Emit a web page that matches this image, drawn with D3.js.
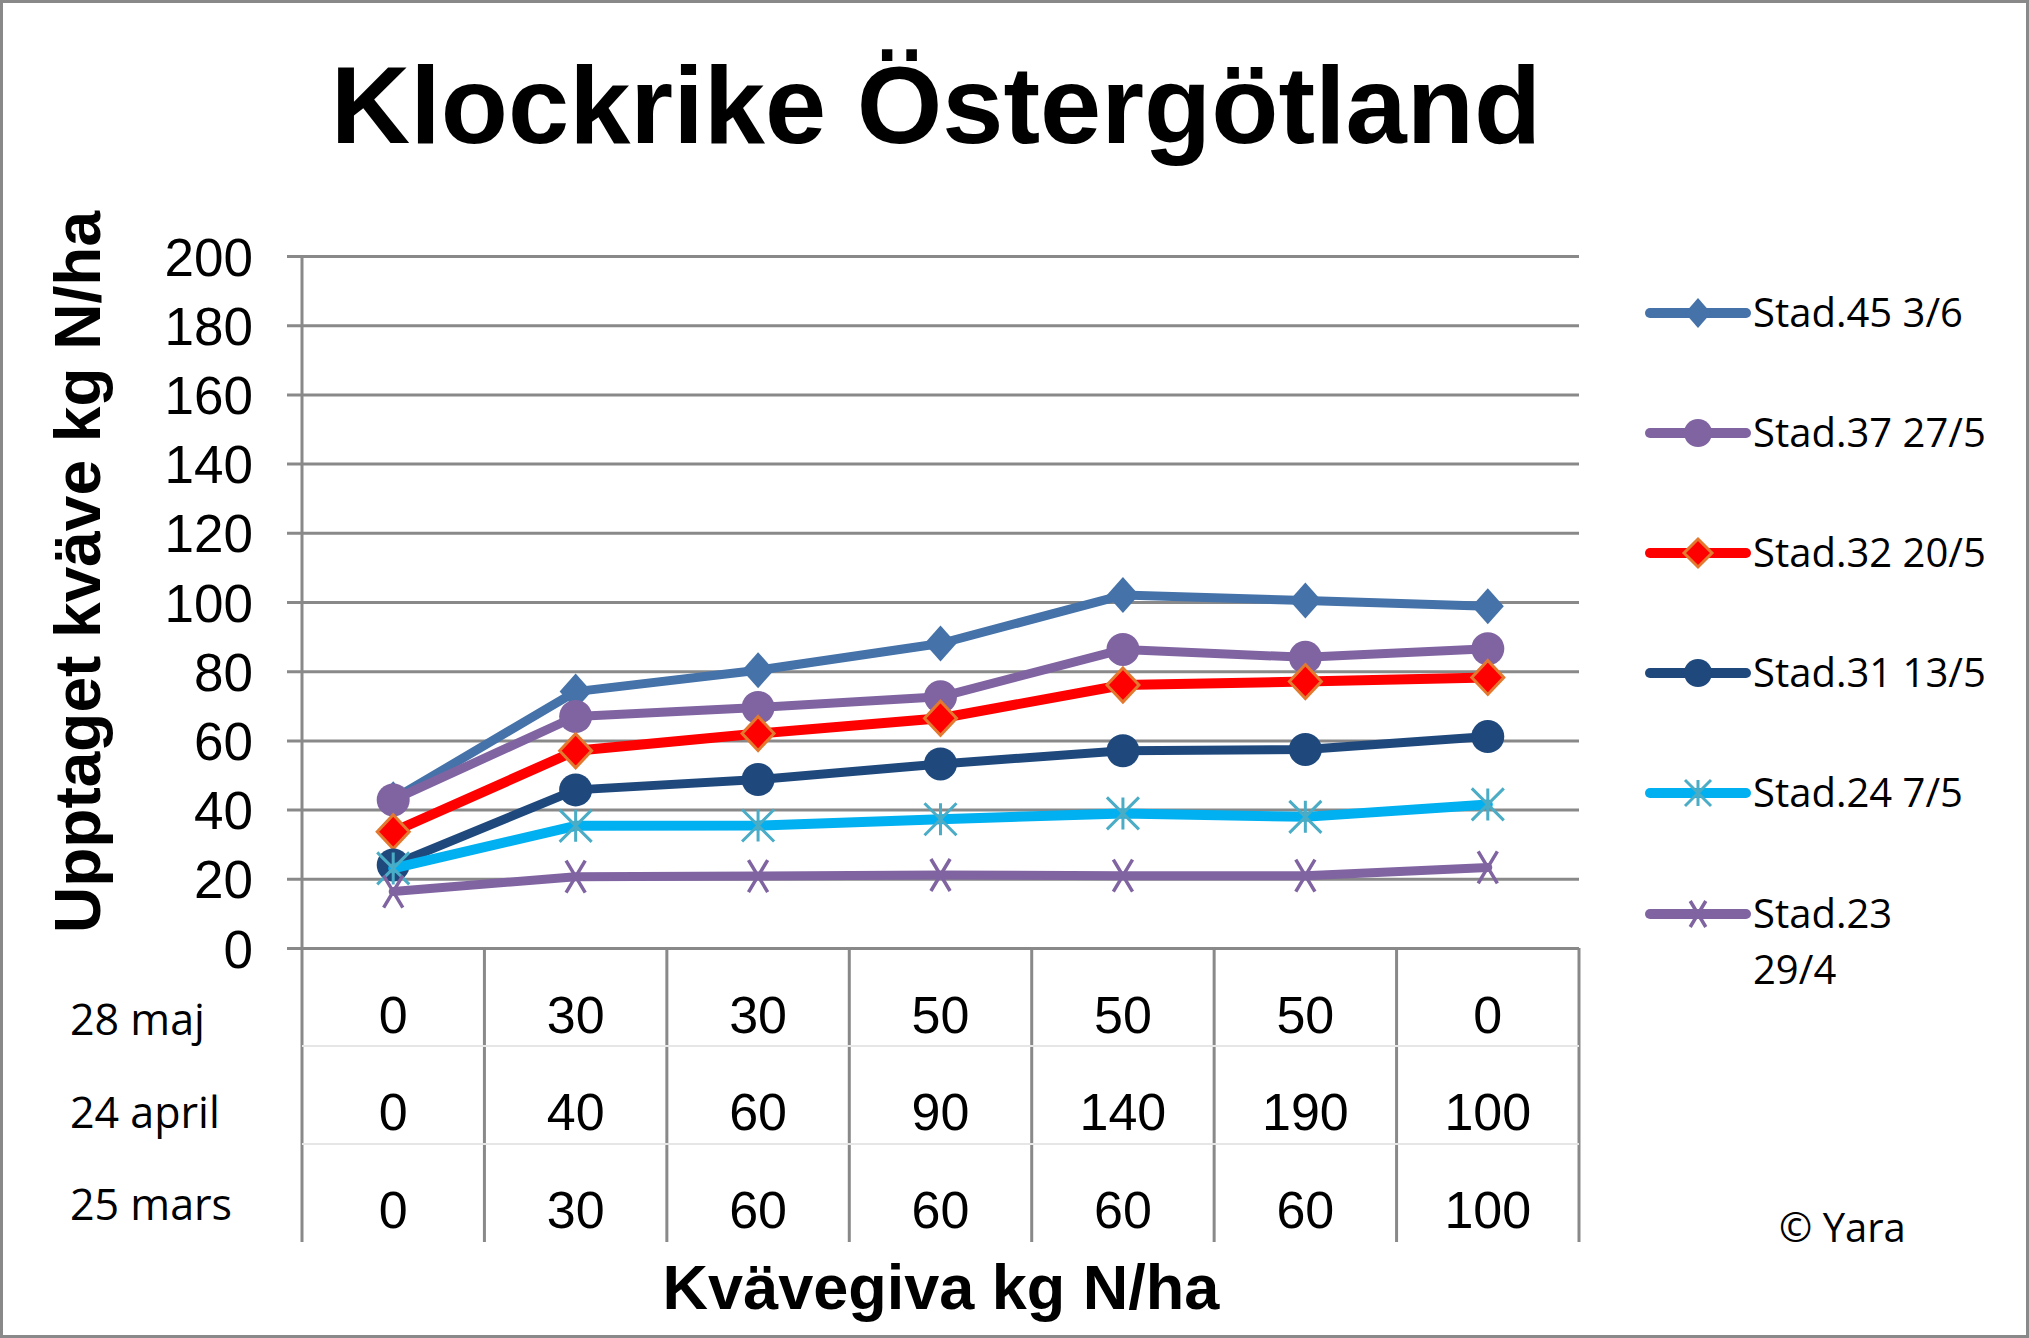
<!DOCTYPE html>
<html><head><meta charset="utf-8">
<script src="https://cdn.jsdelivr.net/npm/d3@7"></script>
<style>
html,body{margin:0;padding:0;background:#fff;}
svg{display:block;}
</style></head>
<body>
<script>
// ---- data ----
const categories = [0,1,2,3,4,5,6];
const rowLabels = ["28 maj","24 april","25 mars"];
const giva28maj = [0,30,30,50,50,50,0];
const giva24april = [0,40,60,90,140,190,100];
const giva25mars = [0,30,60,60,60,60,100];
const yTicks = [0,20,40,60,80,100,120,140,160,180,200];
const seriesNames = ["Stad.45 3/6","Stad.37 27/5","Stad.32 20/5","Stad.31 13/5","Stad.24 7/5","Stad.23 29/4"];
const stad45 = [43,74.1,80.3,88.0,102.0,100.4,98.8];
const stad37 = [42.8,66.9,69.5,72.6,86.3,84.0,86.5];
const stad32 = [33.6,57.0,62.0,66.4,76.0,77.0,78.2];
const stad31 = [24.0,45.7,48.7,53.2,57.0,57.4,61.1];
const stad24 = [23.0,35.3,35.4,37.2,38.9,37.9,41.5];
const stad23 = [16.3,20.6,20.8,21.1,20.9,20.9,23.3];

(function(){
const W = 2029, H = 1338;
const svg = d3.select("body").append("svg").attr("width", W).attr("height", H);
svg.append("rect").attr("x",1.5).attr("y",1.5).attr("width",W-3).attr("height",H-3)
  .attr("fill","#fff").attr("stroke","#898989").attr("stroke-width",3);

const pL = 302, pR = 1579, pT = 256, pB = 948;
const x = d3.scaleBand().domain(categories).range([pL, pR]).padding(0);
const y = d3.scaleLinear().domain([0,200]).range([pB, pT]);
const cx = i => x(i) + x.bandwidth()/2;
const grid = "#898989";

// title
svg.append("text").attr("x",936).attr("y",143).attr("text-anchor","middle")
  .attr("font-family","Liberation Sans, Arial, sans-serif").attr("font-weight","bold")
  .attr("font-size",110).text("Klockrike Östergötland");

// y axis with gridlines
const yAxis = d3.axisLeft(y).tickValues(yTicks).tickSizeInner(-(pR-287)).tickSizeOuter(0).tickPadding(34);
const gy = svg.append("g").attr("transform","translate(287,0)").call(yAxis);
gy.select(".domain").remove();
gy.selectAll(".tick line").attr("stroke",grid).attr("stroke-width",3);
gy.selectAll(".tick text").attr("font-family","Liberation Sans, Arial, sans-serif")
  .attr("font-size",53).attr("fill","#000").attr("dy","0.36em");

// axis lines and table verticals
svg.append("line").attr("x1",pL).attr("x2",pL).attr("y1",pT).attr("y2",1242)
  .attr("stroke",grid).attr("stroke-width",3);
const bounds = categories.map(i => x(i)+x.bandwidth());
svg.selectAll(".vline").data(bounds).enter().append("line")
  .attr("x1",d=>d).attr("x2",d=>d).attr("y1",pB).attr("y2",1242)
  .attr("stroke",grid).attr("stroke-width",3);
// faint row separators
[1046,1144].forEach(yy=>{
  svg.append("line").attr("x1",pL).attr("x2",pR).attr("y1",yy).attr("y2",yy)
    .attr("stroke","#e6e6e6").attr("stroke-width",2);
});

// y title
svg.append("text").attr("transform","translate(100,572) rotate(-90)").attr("text-anchor","middle")
  .attr("font-family","Liberation Sans, Arial, sans-serif").attr("font-weight","bold")
  .attr("font-size",64).text("Upptaget kväve kg N/ha");

// x title
svg.append("text").attr("x",941).attr("y",1309).attr("text-anchor","middle")
  .attr("font-family","Liberation Sans, Arial, sans-serif").attr("font-weight","bold")
  .attr("font-size",63).text("Kvävegiva kg N/ha");

// table
const rows = [giva28maj, giva24april, giva25mars];
const rowNumBase = [1033,1130,1228];
const rowLabBase = [1035,1128,1220];
rows.forEach((r,ri)=>{
  svg.append("text").attr("x",70).attr("y",rowLabBase[ri])
    .attr("font-family","Open Sans, sans-serif").attr("font-size",43).text(rowLabels[ri]);
  svg.selectAll(".num"+ri).data(r).enter().append("text")
    .attr("x",(d,i)=>cx(i)).attr("y",rowNumBase[ri]).attr("text-anchor","middle")
    .attr("font-family","Liberation Sans, Arial, sans-serif").attr("font-size",52).text(d=>d);
});

svg.append("text").attr("x",1779).attr("y",1242)
  .attr("font-family","Open Sans, sans-serif").attr("font-size",40).text("© Yara");

// markers
function drawMarker(g, type, s){
  if(type==="diamond"){
    g.append("path").attr("d",`M0,${-s.h}L${s.w},0L0,${s.h}L${-s.w},0Z`)
      .attr("fill",s.fill).attr("stroke",s.stroke||"none").attr("stroke-width",s.sw||0);
  } else if(type==="circle"){
    g.append("ellipse").attr("rx",s.r).attr("ry",s.r).attr("fill",s.fill);
  } else if(type==="star"){
    const a=s.a;
    g.append("path").attr("d",`M0,${-a}V${a}M${-a},${-a}L${a},${a}M${-a},${a}L${a},${-a}`)
      .attr("stroke",s.stroke).attr("stroke-width",3).attr("fill","none");
  } else if(type==="x"){
    const a=s.a;
    g.append("path").attr("d",`M${-a*0.6},${-a}L${a*0.6},${a}M${-a*0.6},${a}L${a*0.6},${-a}`)
      .attr("stroke",s.stroke).attr("stroke-width",3.5).attr("fill","none");
  }
}

const series = [
  {name:seriesNames[0], data:stad45, color:"#4472A9", lw:9, type:"diamond", m:{w:16,h:18,fill:"#4472A9"}, lm:{w:13,h:15,fill:"#4472A9"}},
  {name:seriesNames[1], data:stad37, color:"#8064A2", lw:9, type:"circle", m:{r:16.5,fill:"#8064A2"}, lm:{r:14,fill:"#8064A2"}},
  {name:seriesNames[2], data:stad32, color:"#FF0000", lw:10, type:"diamond", m:{w:16,h:17,fill:"#FF0000",stroke:"#E3782F",sw:3}, lm:{w:14,h:14,fill:"#FF0000",stroke:"#E3782F",sw:3}},
  {name:seriesNames[3], data:stad31, color:"#1F497D", lw:9, type:"circle", m:{r:16.5,fill:"#1F497D"}, lm:{r:14,fill:"#1F497D"}},
  {name:seriesNames[4], data:stad24, color:"#00B0F0", lw:10, type:"star", m:{a:16,stroke:"#4BACC6"}, lm:{a:13,stroke:"#4BACC6"}},
  {name:seriesNames[5], data:stad23, color:"#8064A2", lw:9, type:"x", m:{a:16,stroke:"#8064A2"}, lm:{a:13,stroke:"#8064A2"}}
];

const line = d3.line().x((d,i)=>cx(i)).y(d=>y(d));
series.forEach(s=>{
  const g = svg.append("g");
  g.append("path").datum(s.data).attr("d",line).attr("fill","none")
    .attr("stroke",s.color).attr("stroke-width",s.lw).attr("stroke-linejoin","round").attr("stroke-linecap","round");
  s.data.forEach((d,i)=>{
    const mg = g.append("g").attr("transform",`translate(${cx(i)},${y(d)})`);
    drawMarker(mg, s.type, s.m);
  });
});

// legend
const legY = [313,433,553,673,793,914];
series.forEach((s,i)=>{
  const g = svg.append("g").attr("transform",`translate(0,${legY[i]})`);
  g.append("line").attr("x1",1650).attr("x2",1746).attr("y1",0).attr("y2",0)
    .attr("stroke",s.color).attr("stroke-width",10).attr("stroke-linecap","round");
  const mg = g.append("g").attr("transform","translate(1698,0)");
  drawMarker(mg, s.type, s.lm);
  const t = g.append("text").attr("x",1753).attr("y",14)
    .attr("font-family","Open Sans, sans-serif").attr("font-size",40);
  if(i===5){
    const parts = s.name.split(" ");
    t.append("tspan").attr("x",1753).text(parts[0]);
    t.append("tspan").attr("x",1753).attr("dy",56).text(parts[1]);
  } else t.text(s.name);
});
})();
</script>
</body></html>
